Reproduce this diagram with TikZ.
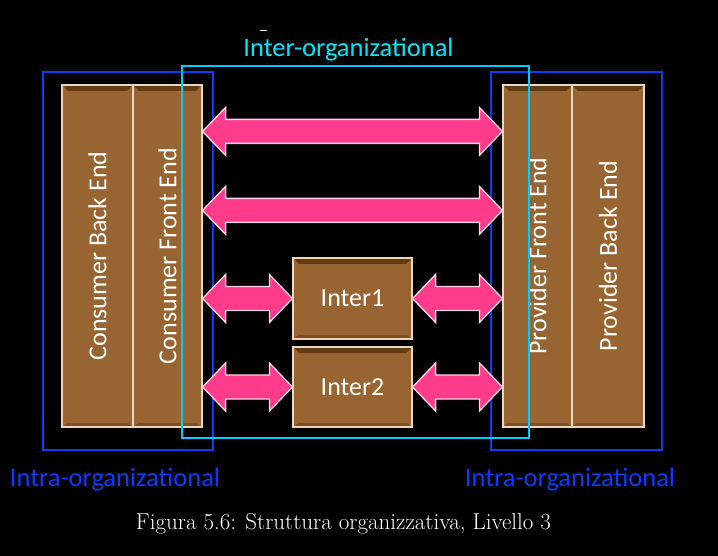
\documentclass[tikz,border=0pt]{standalone}
\usepackage{fontspec}
\newfontfamily\carl{Carlito}
\usetikzlibrary{calc}
\definecolor{bgblack}{RGB}{0,0,0}
\definecolor{boxbrown}{RGB}{152,100,50}
\definecolor{darkbrown}{RGB}{100,60,20}
\definecolor{edgebrown}{RGB}{235,215,190}
\definecolor{cyanline}{RGB}{0,204,255}
\definecolor{cyantext}{RGB}{0,230,255}
\definecolor{blueline}{RGB}{10,60,255}
\definecolor{arrpink}{RGB}{255,60,140}
\definecolor{arredge}{RGB}{255,215,230}
\tikzset{
  brownbox/.style={draw=edgebrown, line width=1.2pt, fill=boxbrown,
    text=white, font=\carl\fontsize{26}{30}\selectfont, inner sep=0pt,
    path picture={
      \fill[darkbrown] (path picture bounding box.north west) -- (path picture bounding box.north east)
        -- ([xshift=-6pt,yshift=-6pt]path picture bounding box.north east)
        -- ([xshift=6pt,yshift=-6pt]path picture bounding box.north west) -- cycle;
      \fill[boxbrown!80!black] (path picture bounding box.south west) -- (path picture bounding box.south east)
        -- ([xshift=-5pt,yshift=4pt]path picture bounding box.south east)
        -- ([xshift=5pt,yshift=4pt]path picture bounding box.south west) -- cycle;
    }},
  orgbox/.style={line width=2pt},
  orglabel/.style={font=\carl\fontsize{26.5}{30}\selectfont, inner sep=0pt},
  dblarrow/.style={draw=arredge, fill=arrpink, line width=1.3pt, line join=miter,
    to path={let \p1=(\tikztostart), \p2=(\tikztotarget) in
      -- (\x1+23pt,\y1+24pt) -- (\x1+23pt,\y1+12pt) -- (\x2-23pt,\y1+12pt)
      -- (\x2-23pt,\y1+24pt) -- (\x2,\y1) -- (\x2-23pt,\y1-24pt)
      -- (\x2-23pt,\y1-12pt) -- (\x1+23pt,\y1-12pt) -- (\x1+23pt,\y1-24pt) -- cycle}},
}
\begin{document}
\begin{tikzpicture}[x=1pt,y=-1pt]
\fill[bgblack] (0,0) rectangle (718,556);
\useasboundingbox (0,0) rectangle (718,556);

% tiny dash at top
\draw[white, line width=1pt] (260,31) -- (267,31);

% column boxes
\node[brownbox, minimum width=71pt, minimum height=342pt] (cbe) at (97.5,256) {};
\node[brownbox, minimum width=69pt, minimum height=342pt] (cfe) at (167.5,256) {};
\node[brownbox, minimum width=69pt, minimum height=342pt] (pfe) at (537.5,256) {};
\node[brownbox, minimum width=72pt, minimum height=342pt] (pbe) at (608,256) {};
\node[rotate=90, text=white, font=\carl\fontsize{26}{30}\selectfont] at (cbe.center) {Consumer Back End};
\node[rotate=90, text=white, font=\carl\fontsize{26}{30}\selectfont] at (cfe.center) {Consumer Front End};
\node[rotate=90, text=white, font=\carl\fontsize{26}{30}\selectfont] at (pfe.center) {Provider Front End};
\node[rotate=90, text=white, font=\carl\fontsize{26}{30}\selectfont] at (pbe.center) {Provider Back End};

% intermediary boxes
\node[brownbox, minimum width=119pt, minimum height=81pt] (i1) at (352.5,298.5) {Inter1};
\node[brownbox, minimum width=119pt, minimum height=80pt] (i2) at (352.5,387) {Inter2};

% organisational boxes
\draw[orgbox, blueline] (43,72) rectangle (213,450);
\draw[orgbox, blueline] (491,72) rectangle (662,450);
\draw[orgbox, cyanline] (182,66) rectangle (529,438);

% arrows
\path ([yshift=-47pt]cfe.north east) edge[dblarrow] ([yshift=-47pt]pfe.north west);
\path ([yshift=-126pt]cfe.north east) edge[dblarrow] ([yshift=-126pt]pfe.north west);
\path (cfe.east |- i1.west) edge[dblarrow] (i1.west);
\path (i1.east) edge[dblarrow] (pfe.west |- i1.east);
\path (cfe.east |- i2.west) edge[dblarrow] (i2.west);
\path (i2.east) edge[dblarrow] (pfe.west |- i2.east);

% labels
\node[orglabel, text=cyantext] (interlbl) at (348.5,50) {Inter-organizational};
\node[orglabel, text=blueline] (intraL) at (115,480) {Intra-organizational};
\node[orglabel, text=blueline] (intraR) at (570,480) {Intra-organizational};

% caption
\node[text=white, font=\fontsize{23}{27}\selectfont, inner sep=0pt] (cap) at (343.5,524) {Figura 5.6: Struttura organizzativa, Livello 3};
\end{tikzpicture}
\end{document}
